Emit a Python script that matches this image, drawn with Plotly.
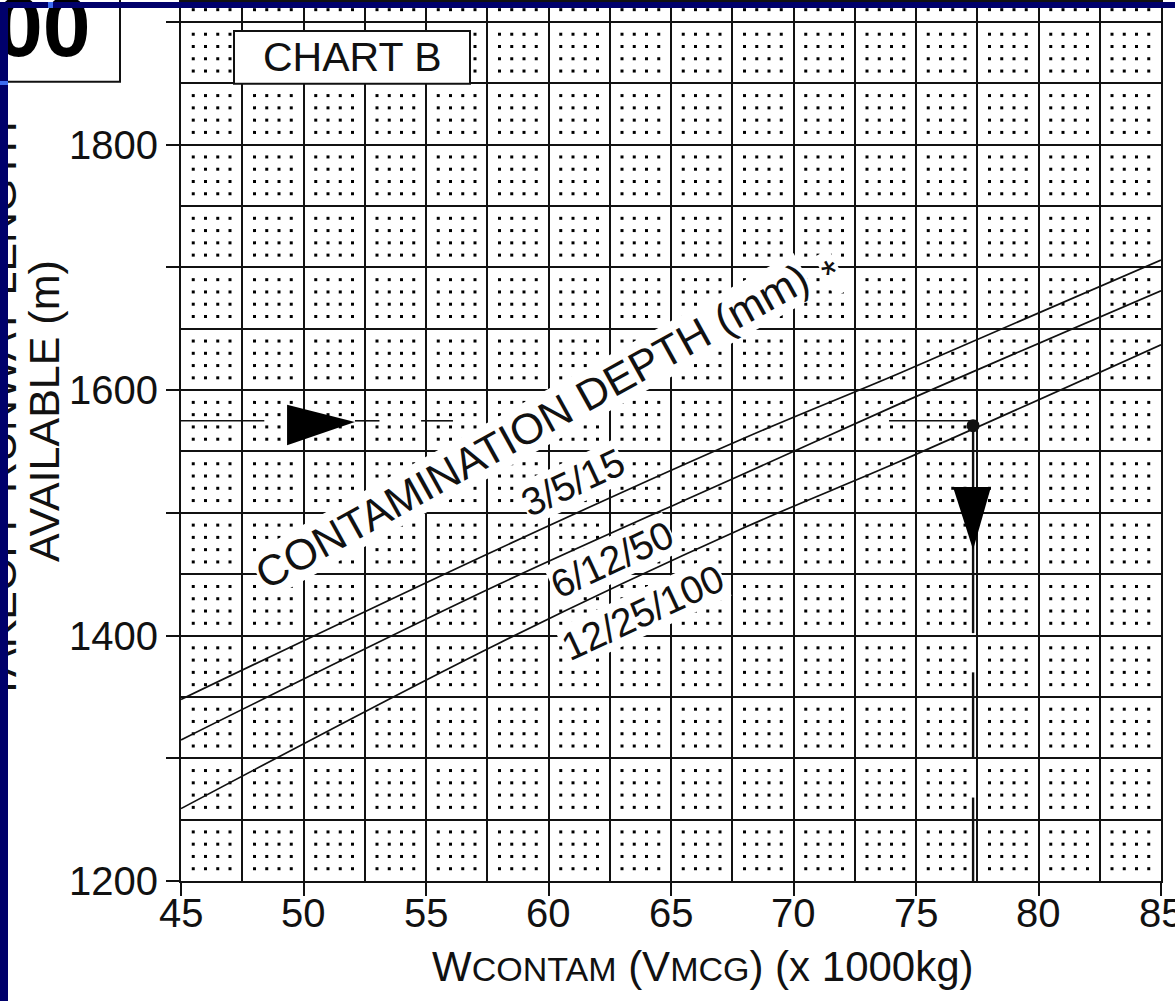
import numpy as np
import plotly.graph_objects as go

# ---------------- data ----------------
weights = [45, 58, 68, 74.35, 85]                      # x 1000 kg
depth_3_5_15 = [1348, 1471, 1561, 1614, 1706]          # m
depth_6_12_50 = [1315, 1442, 1532, 1589, 1681]         # m
depth_12_25_100 = [1259, 1394, 1488, 1542, 1637]       # m
series_labels = ["3/5/15", "6/12/50", "12/25/100"]

x_tick_vals = [45, 50, 55, 60, 65, 70, 75, 80, 85]
x_tick_text = ["45", "50", "55", "60", "65", "70", "75", "80", "85"]
y_tick_vals = [1200, 1300, 1400, 1500, 1600, 1700, 1800, 1900]
y_tick_text = ["1200", "", "1400", "", "1600", "", "1800", ""]

read_weight = 77.33          # example entry weight
read_runway = 1575           # example runway length line
read_point = 1571            # point on the 12/25/100 line
ref_h_segments = [[45, 48.4], [52.1, 53.1], [54.8, 56.1], [73.9, read_weight]]
ref_v_segments = [[read_point, 1402], [1370, 1301], [1268, 1200]]

# ---------------- geometry ----------------
W, H = 1175, 1001
L, R, T, B = 181, 14, 0, 120
X_RANGE = [45, 85]
Y_RANGE = [1200, 1200 + (H - T - B) / 1.23]
NAVY = "#00006b"
INK = "#111"
FONT = "Liberation Sans, Arial, Helvetica, sans-serif"


def pxx(p):
    return (p - L) / (W - L - R)


def pyy(p):
    return (H - B - p) / (H - T - B)


def dxv(p):
    return X_RANGE[0] + (p - L) / 24.5


def dyv(p):
    return 1200 + (H - B - p) / 1.23


fig = go.Figure()

# dotted chart-paper texture (4x4 dots inside each grid cell)
dx = np.arange(45, 85.001, 0.5)
dx = dx[np.abs(dx / 2.5 - np.round(dx / 2.5)) > 1e-6]
dy = np.arange(1200, Y_RANGE[1], 10)
dy = dy[np.abs(dy / 50 - np.round(dy / 50)) > 1e-6]
gx, gy = np.meshgrid(dx, dy)
fig.add_trace(go.Scatter(x=gx.ravel(), y=gy.ravel(), mode="markers",
                         marker=dict(size=3, color="#000", symbol="square", line=dict(width=0)),
                         hoverinfo="skip", showlegend=False))

for ys in [depth_3_5_15, depth_6_12_50, depth_12_25_100]:
    fig.add_trace(go.Scatter(x=weights, y=ys, mode="lines", line=dict(color=INK, width=1.7),
                             line_shape="spline", showlegend=False, hoverinfo="skip"))

# reading lines
for a, b in ref_h_segments:
    fig.add_trace(go.Scatter(x=[a, b], y=[read_runway, read_runway], mode="lines",
                             line=dict(color=INK, width=1.6), showlegend=False, hoverinfo="skip"))
for a, b in ref_v_segments:
    fig.add_trace(go.Scatter(x=[read_weight, read_weight], y=[a, b], mode="lines",
                             line=dict(color=INK, width=2.4), showlegend=False, hoverinfo="skip"))
fig.add_trace(go.Scatter(x=[read_weight], y=[read_point], mode="markers",
                         marker=dict(size=13, color=INK), showlegend=False, hoverinfo="skip"))

shapes = []
# arrows (data coords)
shapes.append(dict(type="path", xref="x", yref="y", layer="above",
                   path=f"M 49.33 1588 L 52.1 {read_runway - 1} L 49.33 1555 Z",
                   fillcolor="#000", line=dict(width=0)))
shapes.append(dict(type="path", xref="x", yref="y", layer="above",
                   path=f"M 76.51 1521 L 78.06 1521 L {read_weight} 1470 Z",
                   fillcolor="#000", line=dict(width=0)))
# boxes
shapes.append(dict(type="rect", xref="paper", yref="paper", layer="above",
                   x0=pxx(-10), x1=pxx(120), y0=pyy(-10), y1=pyy(80),
                   fillcolor="white", line=dict(color=INK, width=2)))
shapes.append(dict(type="rect", xref="paper", yref="paper", layer="above",
                   x0=pxx(234), x1=pxx(470), y0=pyy(29), y1=pyy(82),
                   fillcolor="white", line=dict(color=INK, width=2)))

ann = []
ann.append(dict(text="<b>00</b>", xref="paper", yref="paper", x=pxx(93), y=pyy(24),
                xanchor="right", yanchor="middle", showarrow=False,
                font=dict(family=FONT, size=86, color="#000")))
ann.append(dict(text="CHART B", xref="paper", yref="paper", x=pxx(352), y=pyy(55),
                xanchor="center", yanchor="middle", showarrow=False,
                font=dict(family=FONT, size=41, color=INK)))
ann.append(dict(text="CONTAMINATION DEPTH (mm)", x=dxv(532), y=dyv(425),
                textangle=-29, showarrow=False, bgcolor="white", borderpad=0,
                font=dict(family=FONT, size=43, color=INK)))
ann.append(dict(text="*", x=dxv(832), y=dyv(272),
                textangle=-28, showarrow=False, bgcolor="white", borderpad=0,
                font=dict(family=FONT, size=40, color=INK)))
label_pos = [(573, 482), (612, 559), (643, 612)]
for lab, (cx, cy) in zip(series_labels, label_pos):
    ann.append(dict(text=lab, x=dxv(cx), y=dyv(cy),
                    textangle=-25, showarrow=False, bgcolor="white", borderpad=0,
                    font=dict(family=FONT, size=39, color=INK)))
# x tick labels
for v, t in zip(x_tick_vals, x_tick_text):
    ann.append(dict(text=t, x=v, xref="x", yref="paper", y=pyy(889),
                    xanchor="center", yanchor="top", showarrow=False,
                    font=dict(family=FONT, size=40, color=INK)))
# axis titles
ann.append(dict(text="AVAILABLE (m)", xref="paper", yref="paper", x=pxx(44), y=pyy(410),
                textangle=-90, showarrow=False, xanchor="center", yanchor="middle",
                font=dict(family=FONT, size=43, color=INK)))
ann.append(dict(text="TAKEOFF RUNWAY LENGTH", xref="paper", yref="paper", x=pxx(1), y=pyy(410),
                textangle=-90, showarrow=False, xanchor="center", yanchor="middle",
                font=dict(family=FONT, size=43, color=INK)))
ann.append(dict(text="W<span style='font-size:34px'>CONTAM</span> (V<span style='font-size:34px'>MCG</span>) (x 1000kg)",
                xref="paper", yref="paper", x=pxx(703), y=pyy(967),
                showarrow=False, xanchor="center", yanchor="middle",
                font=dict(family=FONT, size=42, color=INK)))
# slide frame (navy bands) drawn last so they cover text
ann.append(dict(text=" ", xref="paper", yref="paper", x=pxx(0), y=pyy(0),
                xanchor="left", yanchor="top", showarrow=False, width=W, height=6,
                bgcolor=NAVY, borderpad=0, borderwidth=0, font=dict(size=2)))
ann.append(dict(text=" ", xref="paper", yref="paper", x=pxx(0), y=pyy(0),
                xanchor="left", yanchor="top", showarrow=False, width=8, height=H,
                bgcolor=NAVY, borderpad=0, borderwidth=0, font=dict(size=2)))
ann.append(dict(text=" ", xref="paper", yref="paper", x=pxx(48), y=pyy(0),
                xanchor="left", yanchor="top", showarrow=False, width=5, height=6,
                bgcolor="#3d6cf0", borderpad=0, borderwidth=0, font=dict(size=2)))
ann.append(dict(text=" ", xref="paper", yref="paper", x=pxx(0), y=pyy(79),
                xanchor="left", yanchor="top", showarrow=False, width=8, height=4,
                bgcolor="#3d6cf0", borderpad=0, borderwidth=0, font=dict(size=2)))

axis_common = dict(showline=True, linecolor=INK, linewidth=2, ticks="outside", ticklen=13,
                   tickwidth=2, tickcolor=INK, showgrid=True, gridcolor=INK, gridwidth=2,
                   zeroline=False, tickfont=dict(family=FONT, size=40, color=INK),
                   mirror=True)
fig.update_layout(
    width=W, height=H, margin=dict(l=L, r=R, t=T, b=B, pad=0),
    paper_bgcolor="white", plot_bgcolor="white",
    font=dict(family=FONT),
    xaxis=dict(range=X_RANGE, tickmode="array", tickvals=x_tick_vals, ticktext=x_tick_text,
               showticklabels=False,
               minor=dict(tickmode="linear", tick0=45, dtick=2.5, showgrid=True,
                          gridcolor=INK, gridwidth=2, ticks=""),
               **axis_common),
    yaxis=dict(range=Y_RANGE, tickmode="array", tickvals=y_tick_vals, ticktext=y_tick_text,
               minor=dict(tickmode="linear", tick0=1200, dtick=50, showgrid=True,
                          gridcolor=INK, gridwidth=2, ticks=""),
               **axis_common),
    shapes=shapes, annotations=ann, showlegend=False,
)
fig.write_html("out.html")
